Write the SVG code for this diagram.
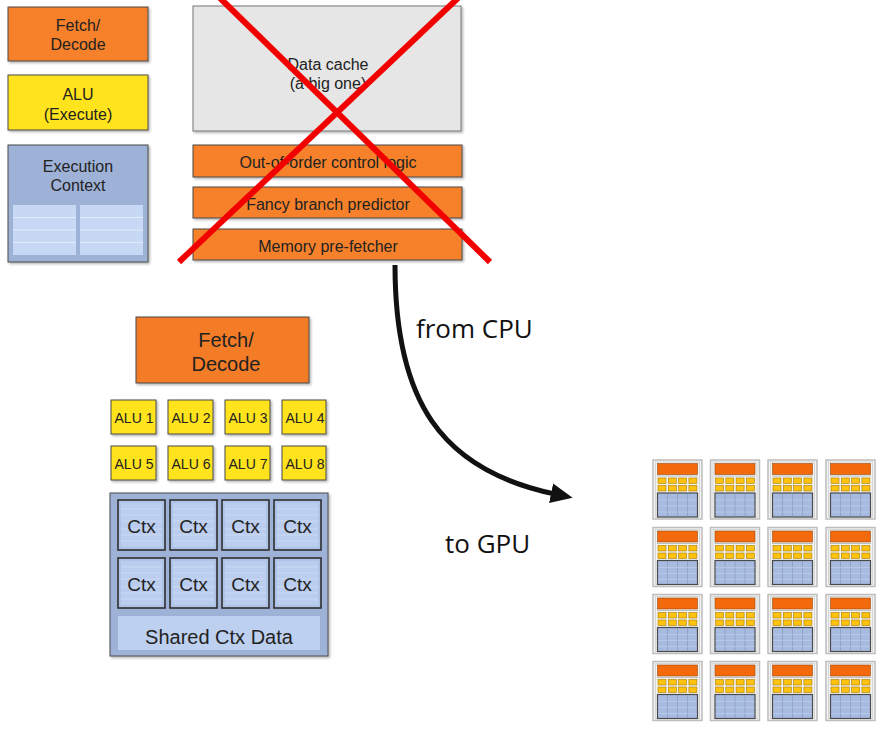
<svg xmlns="http://www.w3.org/2000/svg" xmlns:xlink="http://www.w3.org/1999/xlink" width="886" height="733" viewBox="0 0 886 733">
<style>
  .box { stroke: #4a4a4a; stroke-width: 1; filter: url(#sh); }
  .orange { fill: #F6812C; }
  .yellow { fill: #FFE31E; }
  .blue { fill: #9EB1D7; }
  .gray { fill: #E6E6E6; stroke: #777; stroke-width: 1; filter: url(#sh); }
  .t { font-family: "Liberation Sans", Arial, sans-serif; fill: #222; text-anchor: middle; }
  .s16 { font-size: 16px; }
  .s20 { font-size: 20px; }
  .s14 { font-size: 14px; }
  .s19 { font-size: 19px; }
  .big { font-family: "Open Sans", "Liberation Sans", sans-serif; font-size: 26px; fill: #111; }
  .ctx { fill: #AFC3E6; stroke: #2e2e2e; stroke-width: 1.6; }
  .ln { stroke: #E2EBFA; stroke-width: 1; }
  .cl { stroke: #CFDDF5; stroke-width: 0.8; }
</style>
<defs>
  <filter id="sh" x="-10%" y="-10%" width="130%" height="130%">
    <feDropShadow dx="1.5" dy="1.5" stdDeviation="1" flood-color="#000" flood-opacity="0.3"/>
  </filter>
  <marker id="ah" viewBox="0 0 22 20" refX="4" refY="10" markerWidth="22" markerHeight="20" orient="auto" markerUnits="userSpaceOnUse">
    <path d="M0,0 L22,10 L0,20 z" fill="#111"/>
  </marker>
  <g id="ctxlines" class="cl">
    <line x1="0" y1="6" x2="41" y2="6"/><line x1="0" y1="12" x2="41" y2="12"/><line x1="0" y1="18" x2="41" y2="18"/>
    <line x1="0" y1="26" x2="41" y2="26"/><line x1="0" y1="32" x2="41" y2="32"/><line x1="0" y1="38" x2="41" y2="38"/>
  </g>
  <g id="core">
    <rect x="0" y="0" width="49" height="59" fill="#F3F3F3" stroke="#BDBDBD" stroke-width="1.5"/>
    <rect x="2.5" y="2" width="44" height="55" fill="none" stroke="#D6D6D6" stroke-width="1"/>
    <rect x="4.5" y="3.5" width="40" height="11" fill="#F26A0C" stroke="#9a4a10" stroke-width="0.6"/>
    <line x1="4" y1="16" x2="45" y2="16" stroke="#9a9a9a" stroke-width="0.6"/>
    <g fill="#FFC30F" stroke="#A77A00" stroke-width="0.6">
      <rect x="5" y="18" width="8" height="5.5"/><rect x="15.3" y="18" width="8" height="5.5"/><rect x="25.6" y="18" width="8" height="5.5"/><rect x="35.9" y="18" width="8" height="5.5"/>
      <rect x="5" y="25.5" width="8" height="5.5"/><rect x="15.3" y="25.5" width="8" height="5.5"/><rect x="25.6" y="25.5" width="8" height="5.5"/><rect x="35.9" y="25.5" width="8" height="5.5"/>
    </g>
    <rect x="4.5" y="33" width="40" height="24" fill="#A7BAE0" stroke="#4a4a4a" stroke-width="1.2"/>
    <g stroke="#8C9CC0" stroke-width="0.8">
      <line x1="14.5" y1="33.5" x2="14.5" y2="56.5"/><line x1="24.5" y1="33.5" x2="24.5" y2="56.5"/><line x1="34.5" y1="33.5" x2="34.5" y2="56.5"/>
    </g>
    <g stroke="#C3D0EC" stroke-width="0.6">
      <line x1="5" y1="40" x2="44" y2="40"/><line x1="5" y1="46" x2="44" y2="46"/><line x1="5" y1="52" x2="44" y2="52"/>
    </g>
  </g>
</defs>
<rect width="886" height="733" fill="#ffffff"/>

<!-- CPU side -->
<g id="cpu-fetch">
  <rect class="box orange" x="8" y="7" width="140" height="54"/>
  <text class="t s16" x="78" y="31">Fetch/</text>
  <text class="t s16" x="78" y="50">Decode</text>
</g>
<g id="cpu-alu">
  <rect class="box yellow" x="8" y="75" width="140" height="55"/>
  <text class="t s16" x="78" y="100">ALU</text>
  <text class="t s16" x="78" y="120">(Execute)</text>
</g>
<g id="cpu-exec-context">
  <rect class="box blue" x="8" y="145" width="140" height="117"/>
  <text class="t s16" x="78" y="172">Execution</text>
  <text class="t s16" x="78" y="191">Context</text>
  <rect x="13" y="205" width="63" height="50" fill="#C6D8F4"/>
  <rect x="80" y="205" width="63" height="50" fill="#C6D8F4"/>
  <g class="ln">
    <line x1="13" y1="217.5" x2="76" y2="217.5"/><line x1="13" y1="230" x2="76" y2="230"/><line x1="13" y1="242.5" x2="76" y2="242.5"/>
    <line x1="80" y1="217.5" x2="143" y2="217.5"/><line x1="80" y1="230" x2="143" y2="230"/><line x1="80" y1="242.5" x2="143" y2="242.5"/>
  </g>
</g>
<g id="data-cache">
  <rect class="gray" x="193" y="6" width="268" height="125"/>
  <text class="t s16" x="328" y="70">Data cache</text>
  <text class="t s16" x="328" y="89">(a big one)</text>
</g>
<g id="ooo-logic">
  <rect class="box orange" x="193" y="145" width="269" height="32"/>
  <text class="t s16" x="328" y="168">Out-of-order control logic</text>
</g>
<g id="branch-predictor">
  <rect class="box orange" x="193" y="187" width="269" height="31"/>
  <text class="t s16" x="328" y="210">Fancy branch predictor</text>
</g>
<g id="prefetcher">
  <rect class="box orange" x="193" y="229" width="269" height="31"/>
  <text class="t s16" x="328" y="252">Memory pre-fetcher</text>
</g>
<g id="red-x" stroke="#F20000" stroke-width="6" stroke-linecap="butt">
  <line x1="220" y1="-2" x2="490" y2="262"/>
  <line x1="458" y1="-2" x2="179" y2="262"/>
</g>

<!-- GPU-style core -->
<g id="gpu-fetch">
  <rect class="box" fill="#F47B25" x="136" y="317" width="173" height="66"/>
  <text class="t s20" x="226" y="347">Fetch/</text>
  <text class="t s20" x="226" y="371">Decode</text>
</g>
<g id="alus">
  <g id="alu1"><rect class="box yellow" x="111" y="400" width="45" height="34"/><text class="t s14" x="134" y="423">ALU 1</text></g>
  <g id="alu2"><rect class="box yellow" x="168" y="400" width="45" height="34"/><text class="t s14" x="191" y="423">ALU 2</text></g>
  <g id="alu3"><rect class="box yellow" x="225" y="400" width="45" height="34"/><text class="t s14" x="248" y="423">ALU 3</text></g>
  <g id="alu4"><rect class="box yellow" x="282" y="400" width="44" height="34"/><text class="t s14" x="305" y="423">ALU 4</text></g>
  <g id="alu5"><rect class="box yellow" x="111" y="446" width="45" height="34"/><text class="t s14" x="134" y="469">ALU 5</text></g>
  <g id="alu6"><rect class="box yellow" x="168" y="446" width="45" height="34"/><text class="t s14" x="191" y="469">ALU 6</text></g>
  <g id="alu7"><rect class="box yellow" x="225" y="446" width="45" height="34"/><text class="t s14" x="248" y="469">ALU 7</text></g>
  <g id="alu8"><rect class="box yellow" x="282" y="446" width="44" height="34"/><text class="t s14" x="305" y="469">ALU 8</text></g>
</g>
<g id="ctx-block">
  <rect class="box blue" x="110" y="493" width="218" height="163"/>
  <g id="ctx-cells">
    <g id="ctx1"><rect class="ctx" x="118" y="500" width="47" height="50"/><rect x="121" y="503" width="41" height="44" fill="#BACDEE"/><use xlink:href="#ctxlines" x="121" y="503"/><text class="t s19" x="141.5" y="533">Ctx</text></g>
    <g id="ctx2"><rect class="ctx" x="170" y="500" width="47" height="50"/><rect x="173" y="503" width="41" height="44" fill="#BACDEE"/><use xlink:href="#ctxlines" x="173" y="503"/><text class="t s19" x="193.5" y="533">Ctx</text></g>
    <g id="ctx3"><rect class="ctx" x="222" y="500" width="47" height="50"/><rect x="225" y="503" width="41" height="44" fill="#BACDEE"/><use xlink:href="#ctxlines" x="225" y="503"/><text class="t s19" x="245.5" y="533">Ctx</text></g>
    <g id="ctx4"><rect class="ctx" x="274" y="500" width="47" height="50"/><rect x="277" y="503" width="41" height="44" fill="#BACDEE"/><use xlink:href="#ctxlines" x="277" y="503"/><text class="t s19" x="297.5" y="533">Ctx</text></g>
    <g id="ctx5"><rect class="ctx" x="118" y="558" width="47" height="50"/><rect x="121" y="561" width="41" height="44" fill="#BACDEE"/><use xlink:href="#ctxlines" x="121" y="561"/><text class="t s19" x="141.5" y="591">Ctx</text></g>
    <g id="ctx6"><rect class="ctx" x="170" y="558" width="47" height="50"/><rect x="173" y="561" width="41" height="44" fill="#BACDEE"/><use xlink:href="#ctxlines" x="173" y="561"/><text class="t s19" x="193.5" y="591">Ctx</text></g>
    <g id="ctx7"><rect class="ctx" x="222" y="558" width="47" height="50"/><rect x="225" y="561" width="41" height="44" fill="#BACDEE"/><use xlink:href="#ctxlines" x="225" y="561"/><text class="t s19" x="245.5" y="591">Ctx</text></g>
    <g id="ctx8"><rect class="ctx" x="274" y="558" width="47" height="50"/><rect x="277" y="561" width="41" height="44" fill="#BACDEE"/><use xlink:href="#ctxlines" x="277" y="561"/><text class="t s19" x="297.5" y="591">Ctx</text></g>
  </g>
  <g id="shared-ctx">
    <rect x="118" y="616" width="202" height="34" fill="#BDD0F0"/>
    <text class="t" style="font-size:20px" x="219" y="644">Shared Ctx Data</text>
  </g>
</g>

<!-- connector -->
<g id="connectors">
  <path d="M395,265 C395,400 440,470 555,494" fill="none" stroke="#111" stroke-width="5" marker-end="url(#ah)"/>
</g>
<g id="labels">
  <text class="big" x="416" y="338">from CPU</text>
  <text class="big" x="445" y="553">to GPU</text>
</g>

<!-- many cores -->
<g id="gpu-cores">
  <use id="core-1-1" xlink:href="#core" x="653" y="460"/>
  <use id="core-1-2" xlink:href="#core" x="710.5" y="460"/>
  <use id="core-1-3" xlink:href="#core" x="768" y="460"/>
  <use id="core-1-4" xlink:href="#core" x="826" y="460"/>
  <use id="core-2-1" xlink:href="#core" x="653" y="527.5"/>
  <use id="core-2-2" xlink:href="#core" x="710.5" y="527.5"/>
  <use id="core-2-3" xlink:href="#core" x="768" y="527.5"/>
  <use id="core-2-4" xlink:href="#core" x="826" y="527.5"/>
  <use id="core-3-1" xlink:href="#core" x="653" y="594.5"/>
  <use id="core-3-2" xlink:href="#core" x="710.5" y="594.5"/>
  <use id="core-3-3" xlink:href="#core" x="768" y="594.5"/>
  <use id="core-3-4" xlink:href="#core" x="826" y="594.5"/>
  <use id="core-4-1" xlink:href="#core" x="653" y="661.5"/>
  <use id="core-4-2" xlink:href="#core" x="710.5" y="661.5"/>
  <use id="core-4-3" xlink:href="#core" x="768" y="661.5"/>
  <use id="core-4-4" xlink:href="#core" x="826" y="661.5"/>
</g>
</svg>
